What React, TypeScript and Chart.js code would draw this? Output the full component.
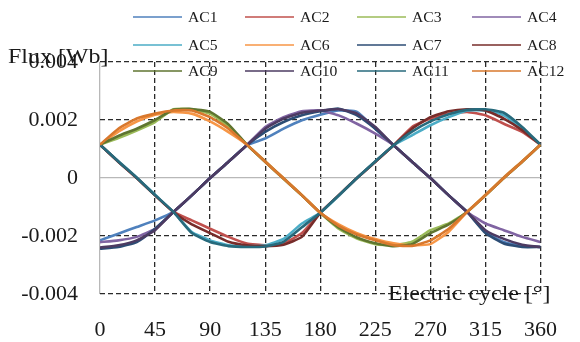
import React, { useEffect, useRef } from "react";
import { Chart, registerables } from "chart.js";

Chart.register(...registerables);

const DEGREES = [0, 15, 30, 45, 60, 75, 90, 105, 120, 135, 150, 165, 180, 195, 210, 225, 240, 255, 270, 285, 300, 315, 330, 345, 360];
const X_TICK_STEP = 45;
const Y_MIN = -0.004;
const Y_MAX = 0.004;
const Y_TICK_STEP = 0.002;

const SERIES_NAMES = ["AC1", "AC2", "AC3", "AC4", "AC5", "AC6", "AC7", "AC8", "AC9", "AC10", "AC11", "AC12"];
const SERIES_COLORS = ["#4F81BD", "#C0504D", "#9BBB59", "#8064A2", "#4BACC6", "#F79646", "#2C4D75", "#772C2A", "#5F7530", "#4D3B62", "#276A7C", "#D9782D"];

const AC1 = [-0.00215, -0.00192, -0.00169, -0.00146, -0.00117, -0.0006, 0, 0.00056, 0.00113, 0.00136, 0.0017, 0.00199, 0.00218, 0.00233, 0.00228, 0.0017, 0.00113, 0.00056, 0, -0.0006, -0.00117, -0.00186, -0.00221, -0.00234, -0.00238];
const AC2 = [0.00115, 0.00056, 0, -0.0006, -0.00117, -0.00146, -0.00175, -0.00203, -0.00226, -0.00232, -0.00226, -0.0019, -0.0012, -0.0006, 0, 0.00056, 0.00113, 0.00176, 0.00205, 0.00222, 0.00228, 0.00216, 0.00187, 0.00159, 0.00115];
const AC3 = [0.00115, 0.00138, 0.00164, 0.00193, 0.00237, 0.00237, 0.00222, 0.00176, 0.00115, 0.00056, -0.00003, -0.0006, -0.0012, -0.00175, -0.00209, -0.00228, -0.00232, -0.0022, -0.0018, -0.00157, -0.00117, -0.0006, 0, 0.00056, 0.00115];
const AC4 = [-0.00221, -0.00215, -0.00203, -0.00175, -0.00117, -0.0006, 0, 0.00056, 0.00113, 0.00176, 0.0021, 0.0023, 0.00233, 0.00216, 0.00187, 0.00153, 0.00113, 0.00056, 0, -0.0006, -0.00117, -0.00157, -0.0018, -0.00203, -0.00221];
const AC5 = [0.00115, 0.00058, 0.00002, -0.00058, -0.00117, -0.00186, -0.00215, -0.00232, -0.00235, -0.00232, -0.0021, -0.00157, -0.0012, -0.00062, 0, 0.00058, 0.00113, 0.00147, 0.00182, 0.0021, 0.00233, 0.00233, 0.00216, 0.0017, 0.00115];
const AC6 = [0.00115, 0.0016, 0.00195, 0.00218, 0.00228, 0.00222, 0.00195, 0.00158, 0.00115, 0.00058, 0, -0.00058, -0.0012, -0.0016, -0.0019, -0.0021, -0.00225, -0.00232, -0.00228, -0.00185, -0.00117, -0.00058, 0.00002, 0.00058, 0.00115];
const AC7 = [-0.00244, -0.00238, -0.00221, -0.00175, -0.00117, -0.0006, 0, 0.00056, 0.00113, 0.00159, 0.00193, 0.00216, 0.0023, 0.00239, 0.00216, 0.0017, 0.00113, 0.00056, 0, -0.0006, -0.00117, -0.0019, -0.00226, -0.00238, -0.00238];
const AC8 = [0.00115, 0.00056, 0, -0.0006, -0.00117, -0.0016, -0.0019, -0.0022, -0.00232, -0.00235, -0.0023, -0.00203, -0.0012, -0.0006, 0, 0.00056, 0.00113, 0.0017, 0.0021, 0.0023, 0.00237, 0.00233, 0.00205, 0.00165, 0.00115];
const AC9 = [0.00115, 0.00145, 0.0017, 0.002, 0.00235, 0.00238, 0.00228, 0.00185, 0.00115, 0.00056, -0.00002, -0.0006, -0.0012, -0.0017, -0.00205, -0.00225, -0.00235, -0.00228, -0.0019, -0.0016, -0.00117, -0.0006, 0, 0.00056, 0.00115];
const AC10 = [-0.0024, -0.00232, -0.00215, -0.0018, -0.00117, -0.0006, 0, 0.00056, 0.00113, 0.0017, 0.00205, 0.00225, 0.00233, 0.00237, 0.00222, 0.00176, 0.00113, 0.00056, 0, -0.0006, -0.00117, -0.0018, -0.0021, -0.0023, -0.00238];
const AC11 = [0.00115, 0.00057, 0.00001, -0.00059, -0.00117, -0.0019, -0.00221, -0.00235, -0.00238, -0.00236, -0.0022, -0.0017, -0.0012, -0.0006, 0, 0.00057, 0.00113, 0.0016, 0.00195, 0.0022, 0.00235, 0.00237, 0.00225, 0.00176, 0.00115];
const AC12 = [0.00115, 0.0017, 0.00205, 0.00222, 0.00233, 0.00233, 0.0021, 0.0017, 0.00115, 0.00056, -0.00002, -0.0006, -0.0012, -0.00165, -0.00195, -0.00215, -0.00232, -0.00234, -0.00215, -0.00175, -0.00117, -0.0006, 0, 0.00056, 0.00115];

const SERIES_VALUES = [AC1, AC2, AC3, AC4, AC5, AC6, AC7, AC8, AC9, AC10, AC11, AC12];

const Y_TITLE = "Flux [Wb]";
const X_TITLE = "Electric cycle [°]";

const FONT = "'Liberation Serif', 'Times New Roman', serif";

function stretchedText(ctx: CanvasRenderingContext2D, text: string, x: number, y: number, sx: number) {
  ctx.save();
  ctx.translate(x, y);
  ctx.scale(sx, 1);
  ctx.fillText(text, 0, 0);
  ctx.restore();
}

const overlayPlugin = {
  id: "overlay",
  afterDraw(chart: any) {
    const ctx = chart.ctx as CanvasRenderingContext2D;
    const area = chart.chartArea;
    ctx.save();
    ctx.fillStyle = "#1a1a1a";
    ctx.textBaseline = "alphabetic";
    ctx.textAlign = "left";
    // axis titles
    ctx.font = `21px ${FONT}`;
    stretchedText(ctx, Y_TITLE, 8, area.top + 1, 1.14);
    stretchedText(ctx, X_TITLE, 388, area.bottom + 6, 1.14);
    // legend
    ctx.font = `14px ${FONT}`;
    ctx.textBaseline = "middle";
    const colX = [133, 245, 357, 472];
    const rowY = [17, 45, 71];
    chart.data.datasets.forEach((ds: any, i: number) => {
      const c = i % 4;
      const r = Math.floor(i / 4);
      const x0 = colX[c];
      const y0 = rowY[r];
      ctx.strokeStyle = ds.borderColor;
      ctx.lineWidth = 1.5;
      ctx.beginPath();
      ctx.moveTo(x0, y0);
      ctx.lineTo(x0 + 49, y0);
      ctx.stroke();
      stretchedText(ctx, ds.label, x0 + 55, y0 + 1, 1.12);
    });
    ctx.restore();
  },
};

export default function App() {
  const ref = useRef<HTMLCanvasElement | null>(null);
  useEffect(() => {
    document.body.style.margin = "0";
    const canvas = ref.current;
    if (!canvas) return;
    const datasets = SERIES_NAMES.map((name, i) => ({
      label: name,
      data: DEGREES.map((d, j) => ({ x: d, y: SERIES_VALUES[i][j] })),
      borderColor: SERIES_COLORS[i],
      backgroundColor: SERIES_COLORS[i],
      borderWidth: 2.6,
      pointRadius: 0,
      tension: 0.15,
      fill: false,
      order: SERIES_NAMES.length - i,
    }));
    const isZero = (v: number) => Math.abs(v) < 1e-12;
    const chart = new Chart(canvas, {
      type: "line",
      data: { datasets },
      plugins: [overlayPlugin],
      options: {
        animation: false,
        responsive: false,
        maintainAspectRatio: false,
        layout: { padding: { left: 0, top: 62, right: 18, bottom: 0 } },
        plugins: { legend: { display: false }, tooltip: { enabled: false } },
        scales: {
          x: {
            type: "linear",
            min: 0,
            max: 360,
            afterFit: (s: any) => {
              s.height = 48;
            },
            ticks: {
              stepSize: X_TICK_STEP,
              padding: 23,
              color: "#1a1a1a",
              font: { family: FONT, size: 22 },
              maxRotation: 0,
              autoSkip: false,
            },
            grid: {
              drawTicks: false,
              lineWidth: 1.3,
              color: (c: any) => (c.tick && isZero(c.tick.value) ? "#b8b8b8" : "#2a2a2a"),
            },
            border: {
              display: false,
              dash: (c: any) => (c.tick && isZero(c.tick.value) ? [] : [5, 3]),
            },
          },
          y: {
            type: "linear",
            min: Y_MIN,
            max: Y_MAX,
            afterFit: (s: any) => {
              s.width = 100;
            },
            ticks: {
              stepSize: Y_TICK_STEP,
              padding: 22,
              color: "#1a1a1a",
              font: { family: FONT, size: 22 },
              callback: (v: any) => (isZero(Number(v)) ? "0" : Number(v).toFixed(3)),
            },
            grid: {
              drawTicks: false,
              lineWidth: 1.3,
              color: (c: any) => (c.tick && isZero(c.tick.value) ? "#b8b8b8" : "#2a2a2a"),
            },
            border: {
              display: false,
              dash: (c: any) => (c.tick && isZero(c.tick.value) ? [] : [5, 3]),
            },
          },
        },
      },
    } as any);
    return () => chart.destroy();
  }, []);
  return (
    <div style={{ width: 580, height: 342, background: "#fff" }}>
      <canvas ref={ref} width={580} height={342} style={{ display: "block" }} />
    </div>
  );
}
